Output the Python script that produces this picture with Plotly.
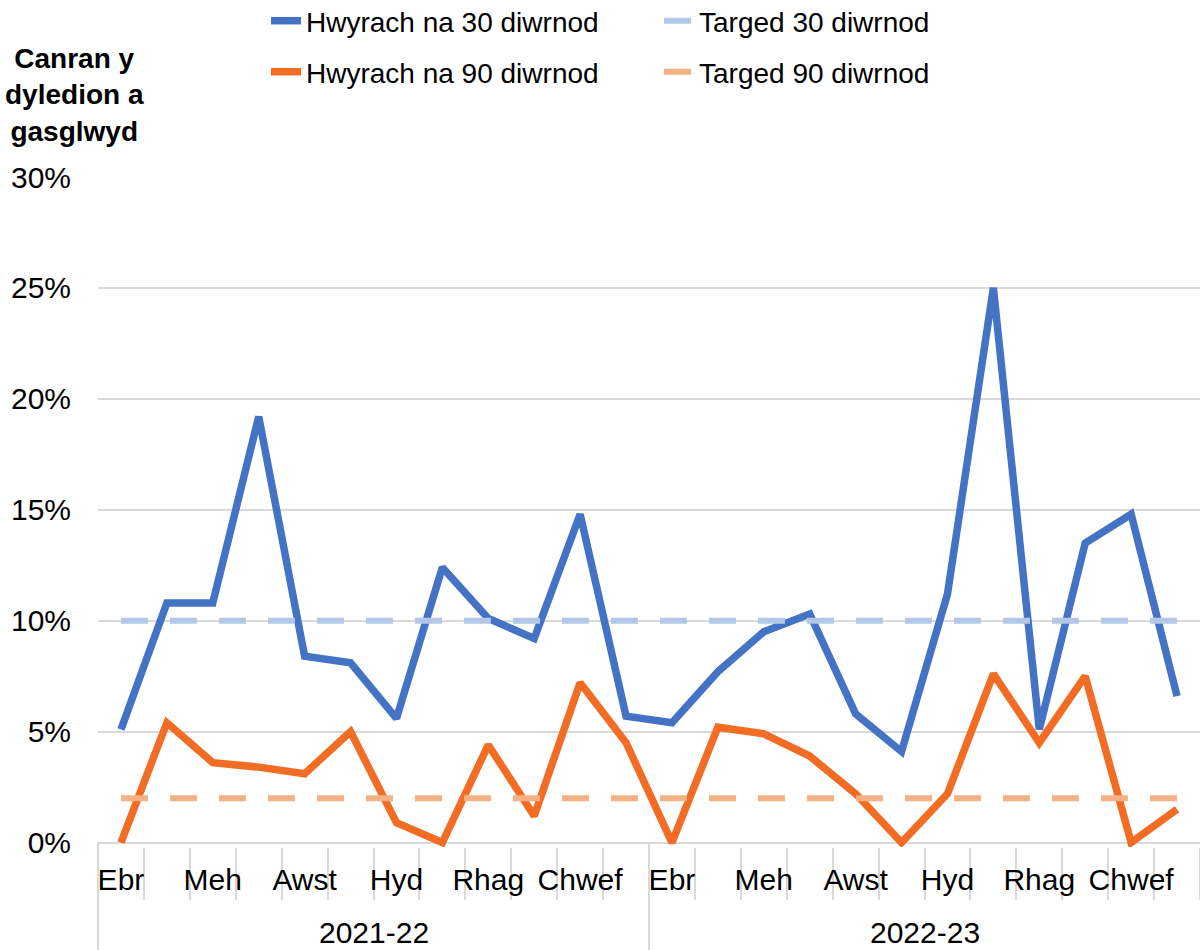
import plotly.graph_objects as go

# data (percent)
years = ["2021-22", "2022-23"]
months = ["Ebr", "Mai", "Meh", "Gorff", "Awst", "Medi", "Hyd", "Tach", "Rhag", "Ion", "Chwef", "Maw"]
shown_months = ["Ebr", "Meh", "Awst", "Hyd", "Rhag", "Chwef"]
y_ticks = [0, 5, 10, 15, 20, 25, 30]

late_30 = [5.1, 10.8, 10.8, 19.2, 8.4, 8.1, 5.6, 12.4, 10.1, 9.2, 14.8, 5.7,
           5.4, 7.7, 9.5, 10.3, 5.8, 4.1, 11.2, 25.0, 5.1, 13.5, 14.8, 6.6]
late_90 = [0.0, 5.4, 3.6, 3.4, 3.1, 5.0, 0.9, 0.0, 4.4, 1.2, 7.2, 4.5,
           0.0, 5.2, 4.9, 3.9, 2.2, 0.0, 2.2, 7.6, 4.5, 7.5, 0.0, 1.5]
target_30 = [10] * 24
target_90 = [2] * 24

FONT = "Liberation Sans, Arial, sans-serif"
GRID = "#d9d9d9"

x = list(range(len(years) * len(months)))
tick_idx = [i for i in x if months[i % 12] in shown_months]
tick_txt = [months[i % 12] for i in tick_idx]

fig = go.Figure()
fig.add_trace(go.Scatter(x=x, y=late_30, mode="lines", name="Hwyrach na 30 diwrnod",
                         line=dict(color="#4472C4", width=7.5), legend="legend"))
fig.add_trace(go.Scatter(x=x, y=target_30, mode="lines", name="Targed 30 diwrnod",
                         line=dict(color="#B4C7E7", width=6, dash="27px,22px"), legend="legend"))
fig.add_trace(go.Scatter(x=x, y=late_90, mode="lines", name="Hwyrach na 90 diwrnod",
                         line=dict(color="#F26C23", width=7.5), legend="legend2"))
fig.add_trace(go.Scatter(x=x, y=target_90, mode="lines", name="Targed 90 diwrnod",
                         line=dict(color="#F4B183", width=6, dash="27px,22px"), legend="legend2"))

# year labels and group separators below the axis
for k, yr in enumerate(years):
    fig.add_annotation(x=k * 12 + 5.5, xref="x", y=-0.127, yref="paper", yanchor="middle",
                       text=yr, showarrow=False, font=dict(size=30, color="black", family=FONT))
for px in [0, 0.5]:
    fig.add_shape(type="line", xref="paper", yref="paper", x0=px, x1=px, y0=0.0066, y1=-0.16,
                  line=dict(color=GRID, width=2))

# y axis title
fig.add_annotation(xref="paper", yref="paper", x=-0.0862, y=1.1223,
                   xanchor="left", yanchor="middle",
                   text="<b>Canran y<br>dyledion a<br>gasglwyd</b>", showarrow=False, align="center",
                   font=dict(size=28, color="black", family=FONT))

legend_style = dict(orientation="h", xref="container", yref="container", x=266 / 1200,
                    xanchor="left", yanchor="middle", entrywidth=348, entrywidthmode="pixels",
                    font=dict(size=28, color="black", family=FONT), bgcolor="rgba(0,0,0,0)")

fig.update_layout(
    width=1200, height=950,
    margin=dict(l=98, r=0, t=177, b=103),
    paper_bgcolor="white", plot_bgcolor="white",
    font=dict(family=FONT, color="black"),
    showlegend=True,
    legend=dict(legend_style, y=1 - 21 / 950),
    legend2=dict(legend_style, y=1 - 72 / 950),
)
fig.update_xaxes(range=[-0.5, 23.5], tickmode="array", tickvals=tick_idx, ticktext=tick_txt,
                 ticks="", showgrid=False, zeroline=False, showline=False, automargin=False,
                 tickfont=dict(size=30, color="black", family=FONT), ticklabelstandoff=12,
                 minor=dict(tick0=-0.5, dtick=1, ticks="outside", ticklen=52,
                            tickcolor=GRID, tickwidth=2, showgrid=False))
fig.update_yaxes(range=[-0.2, 30], tickmode="array", tickvals=y_ticks,
                 ticktext=[f"{v}%" for v in y_ticks],
                 showgrid=True, gridcolor=GRID, gridwidth=2,
                 zeroline=True, zerolinecolor=GRID, zerolinewidth=2, showline=False,
                 ticks="", automargin=False, ticklabelstandoff=26,
                 tickfont=dict(size=30, color="black", family=FONT))

fig.write_html("out.html", config={"displayModeBar": False},
               post_script="document.body.style.margin='0';")
